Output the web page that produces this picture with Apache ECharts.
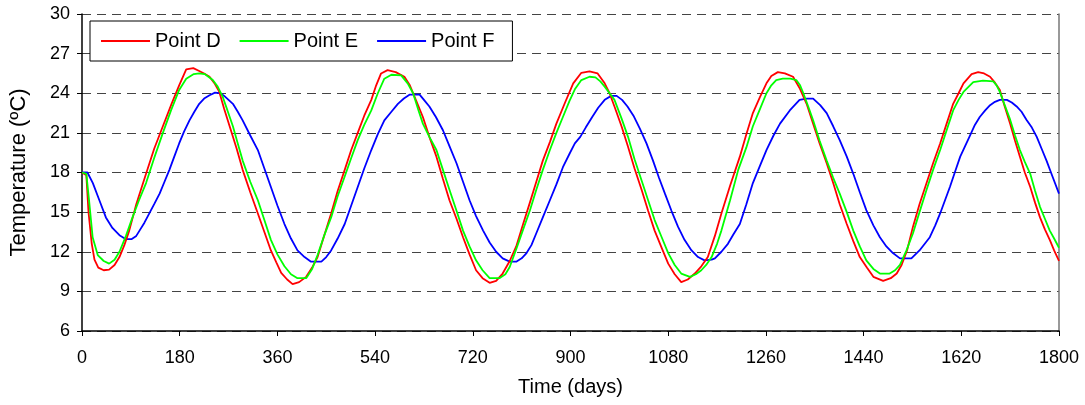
<!DOCTYPE html>
<html>
<head>
<meta charset="utf-8">
<script src="https://cdn.jsdelivr.net/npm/echarts@6/dist/echarts.min.js"></script>
<style>html,body{margin:0;padding:0;background:#fff}#c{width:1085px;height:405px}</style>
</head>
<body>
<div id="c"></div>
<script>
var seriesNames = ['Point D', 'Point E', 'Point F'];
var xTicks = [0, 180, 360, 540, 720, 900, 1080, 1260, 1440, 1620, 1800];
var yTicks = [6, 9, 12, 15, 18, 21, 24, 27, 30];

var dayD = [0,8,12,18,23,30,40,50,60,69,78,87,100,118,133,149,165,179,192,205,215,225,235,245,253,262,272,285,296,310,324,336,348,358,367,378,388,400,413,424,434,446,459,471,484,496,508,520,533,542,551,563,578,594,604,616,628,640,653,665,677,690,702,714,726,738,751,763,775,788,800,812,825,837,849,862,874,890,905,920,935,950,963,972,981,994,1006,1018,1031,1043,1055,1068,1080,1092,1104,1116,1129,1141,1153,1166,1178,1194,1212,1224,1236,1249,1261,1270,1282,1295,1310,1322,1335,1347,1359,1372,1384,1396,1409,1421,1433,1446,1458,1476,1490,1501,1510,1520,1531,1543,1556,1568,1581,1593,1605,1615,1624,1639,1651,1662,1673,1682,1691,1700,1710,1719,1728,1737,1747,1756,1765,1774,1783,1791,1800];
var tempD = [18.0,17.8,15.0,12.6,11.4,10.8,10.6,10.65,11.0,11.6,12.5,13.6,15.6,17.9,19.8,21.5,23.2,24.6,25.8,25.9,25.7,25.5,25.25,24.7,24.1,22.8,21.5,19.8,18.2,16.5,14.9,13.5,12.1,11.2,10.4,9.9,9.55,9.7,10.1,10.8,11.6,13.2,14.9,16.6,18.2,19.7,21.0,22.3,23.5,24.6,25.5,25.75,25.6,25.25,24.6,23.4,22.2,20.7,19.2,17.5,15.9,14.5,13.1,11.8,10.6,10.0,9.65,9.8,10.35,11.3,12.4,14.0,15.7,17.3,18.9,20.3,21.7,23.3,24.75,25.55,25.65,25.5,24.75,24.0,23.0,21.5,19.95,18.3,16.7,15.1,13.6,12.3,11.1,10.3,9.7,9.9,10.35,10.9,11.6,13.2,14.9,17.0,19.2,20.9,22.5,23.7,24.75,25.3,25.6,25.5,25.25,24.4,23.2,21.7,20.2,18.7,17.2,15.6,14.1,12.8,11.6,10.8,10.1,9.8,10.0,10.35,11.0,12.1,13.9,15.6,17.2,18.7,20.2,21.7,23.2,24.0,24.75,25.45,25.6,25.5,25.25,24.8,24.25,23.0,21.7,20.4,19.2,18.0,16.9,15.7,14.6,13.7,12.9,12.1,11.3];

var dayE = [0,8,13,19.6,29,40,50,60,69,81,93,105,118,133,149,164,179,192,206,216,226,241,250,259,268,278,287,296,310,324,336,348,360,373,385,397,413,424,434,446,459,471,484,496,508,520,533,545,557,570,588,600,610,620,628,640,653,665,677,690,702,714,726,738,751,769,780,788,800,812,825,837,849,862,874,886,898,908,920,935,946,955,963,972,981,994,1006,1018,1031,1043,1055,1068,1080,1092,1104,1120,1131,1141,1150,1160,1170,1178,1194,1209,1224,1236,1249,1261,1270,1279,1291,1305,1316,1323,1329,1338,1347,1359,1372,1384,1396,1409,1421,1433,1445,1458,1470,1488,1498,1507,1519,1531,1543,1556,1568,1581,1593,1605,1615,1624,1642,1660,1679,1685,1691,1700,1710,1719,1728,1737,1747,1756,1765,1774,1783,1791,1800];
var tempE = [18.0,17.9,15.9,13.1,11.75,11.3,11.1,11.4,12.0,13.2,14.6,15.9,17.2,19.1,21.0,22.7,24.25,25.1,25.45,25.5,25.45,25.0,24.5,23.75,22.7,21.5,20.2,18.9,17.3,15.9,14.4,12.9,11.8,10.9,10.3,10.0,10.0,10.7,11.75,13.2,14.6,16.2,17.7,19.1,20.45,21.6,22.7,24.0,25.1,25.4,25.35,24.75,24.0,22.7,21.7,20.7,19.7,18.2,16.7,15.1,13.6,12.4,11.35,10.6,10.0,10.0,10.3,10.85,12.2,13.6,15.1,16.7,18.2,19.7,21.0,22.2,23.4,24.3,25.0,25.25,25.2,24.9,24.5,24.0,23.5,22.1,20.7,19.0,17.4,15.9,14.4,13.1,11.9,11.0,10.35,10.1,10.3,10.6,11.0,11.6,12.6,13.6,15.9,18.2,19.9,21.5,22.8,24.0,24.6,25.0,25.1,25.1,25.0,24.6,24.0,23.0,21.95,20.4,18.9,17.6,16.4,15.0,13.6,12.4,11.35,10.7,10.35,10.35,10.6,11.0,12.1,13.4,15.0,16.7,18.2,19.7,21.2,22.7,23.5,24.1,24.85,24.95,24.9,24.6,24.1,23.1,22.0,20.8,19.7,18.8,17.9,16.6,15.4,14.5,13.6,13.0,12.3];

var dayF = [0,10,20,32,44,56,69,81,91,100,106,115,124,133,143,152,161,170,179,188,198,207,216,225,235,245,255,262,270,278,287,296,310,324,336,348,360,373,385,397,410,422,441,450,459,471,484,496,508,520,533,545,557,570,582,593,604,622,630,640,652,665,677,690,702,714,726,739,751,763,775,788,800,810,819,828,837,849,862,874,886,898,908,918,928,940,951,963,975,985,995,1005,1016,1028,1040,1052,1063,1074,1086,1098,1110,1123,1135,1147,1160,1166,1178,1190,1200,1212,1224,1236,1249,1261,1274,1286,1304,1322,1335,1347,1360,1372,1384,1396,1409,1421,1433,1445,1458,1470,1482,1494,1507,1528,1543,1562,1572,1581,1590,1599,1608,1618,1627,1636,1645,1654,1664,1673,1682,1691,1704,1713,1722,1731,1740,1750,1759,1768,1777,1788,1800];
var tempF = [18.0,18.0,17.2,15.9,14.6,13.8,13.25,12.95,12.95,13.2,13.6,14.2,14.9,15.6,16.4,17.3,18.2,19.2,20.2,21.1,21.95,22.6,23.2,23.6,23.85,24.05,24.0,23.8,23.5,23.2,22.6,21.95,20.8,19.7,18.3,16.9,15.5,14.1,13.0,12.1,11.6,11.25,11.25,11.6,12.1,13.0,14.1,15.5,16.9,18.3,19.7,20.9,21.95,22.6,23.2,23.6,23.9,23.9,23.5,23.0,22.2,21.2,20.0,18.7,17.3,15.9,14.7,13.6,12.7,12.0,11.5,11.25,11.25,11.5,11.9,12.5,13.4,14.6,15.9,17.1,18.4,19.4,20.2,20.7,21.4,22.2,22.9,23.5,23.8,23.8,23.5,23.0,22.3,21.3,20.2,18.9,17.6,16.4,15.1,13.9,12.9,12.1,11.6,11.35,11.4,11.5,12.0,12.6,13.3,14.1,15.6,17.2,18.5,19.7,20.8,21.7,22.7,23.5,23.6,23.6,23.1,22.5,21.5,20.45,19.2,17.9,16.5,15.15,14.0,13.1,12.4,11.9,11.5,11.5,12.1,13.1,14.0,14.9,15.9,16.9,18.0,19.2,20.0,20.8,21.6,22.2,22.7,23.1,23.35,23.5,23.5,23.3,23.0,22.6,22.0,21.4,20.7,19.8,18.9,17.7,16.4];

function pairs(xs, ys) { return xs.map(function (x, i) { return [x, ys[i]]; }); }

var FONT = '"Liberation Sans", Arial, sans-serif';
var colors = ['#ff0000', '#00ff00', '#0000ff'];
var chart = echarts.init(document.getElementById('c'), null, {renderer: 'canvas'});
chart.setOption({
  animation: false,
  backgroundColor: '#ffffff',
  color: colors,
  textStyle: {fontFamily: FONT},
  grid: {left: 82, top: 14, right: 26, bottom: 74, containLabel: false},
  legend: {
    left: 90, top: 21,
    orient: 'horizontal',
    data: seriesNames.map(function (n, i) {
      return {name: n, icon: 'rect', itemStyle: {color: colors[i]}};
    }),
    itemWidth: 49, itemHeight: 2, itemGap: 19,
    padding: [10, 18, 10, 11],
    borderColor: '#000', borderWidth: 1,
    backgroundColor: '#fff',
    textStyle: {fontFamily: FONT, fontSize: 20, color: '#000'}
  },
  xAxis: {
    type: 'value', min: 0, max: 1800, interval: 180,
    name: 'Time (days)', nameLocation: 'middle', nameGap: 46,
    nameTextStyle: {fontFamily: FONT, fontSize: 20, color: '#000'},
    axisLine: {show: true, onZero: false, lineStyle: {color: '#000', width: 1.5}},
    axisTick: {show: true, length: 5, inside: false, lineStyle: {color: '#000'}},
    axisLabel: {margin: 18, fontFamily: FONT, fontSize: 18, color: '#000',
      formatter: function (v) { return xTicks.indexOf(v) >= 0 ? String(v) : ''; }},
    splitLine: {show: false}
  },
  yAxis: [{
    type: 'value', min: 6, max: 30, interval: 3,
    name: 'Temperature (ºC)', nameLocation: 'middle', nameGap: 52, nameRotate: 90,
    nameTextStyle: {fontFamily: FONT, fontSize: 22, color: '#000'},
    axisLine: {show: true, lineStyle: {color: '#000', width: 1.5}},
    axisTick: {show: true, length: 5, inside: false, lineStyle: {color: '#000'}},
    axisLabel: {margin: 12, fontFamily: FONT, fontSize: 18, color: '#000',
      formatter: function (v) { return yTicks.indexOf(v) >= 0 ? String(v) : ''; }},
    splitLine: {show: true, lineStyle: {color: '#444', type: [9, 6], width: 1.2}}
  }, {
    type: 'value', min: 6, max: 30, interval: 3, position: 'right',
    axisLine: {show: true, lineStyle: {color: '#777', width: 1.5}},
    axisTick: {show: false}, axisLabel: {show: false}, splitLine: {show: false}
  }],
  series: [
    {name: seriesNames[0], type: 'line', data: pairs(dayD, tempD), showSymbol: false, symbol: 'none',
      lineStyle: {color: colors[0], width: 1.8}, z: 3},
    {name: seriesNames[1], type: 'line', data: pairs(dayE, tempE), showSymbol: false, symbol: 'none',
      lineStyle: {color: colors[1], width: 1.8}, z: 4},
    {name: seriesNames[2], type: 'line', data: pairs(dayF, tempF), showSymbol: false, symbol: 'none',
      lineStyle: {color: colors[2], width: 1.8}, z: 2}
  ]
});
</script>
</body>
</html>
